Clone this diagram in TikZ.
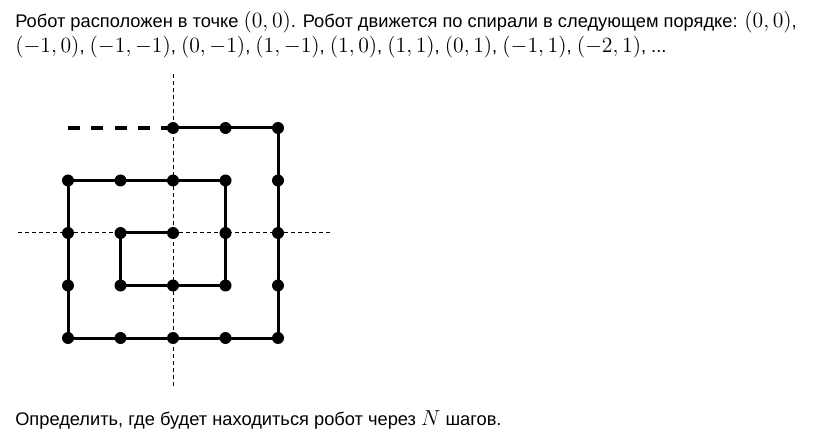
\documentclass[tikz,border=0pt]{standalone}
\usepackage{fix-cm}
\usepackage[no-math]{fontspec}
\setmainfont{Liberation Sans}
\usetikzlibrary{calc}

\newcommand{\mth}[1]{{\fontsize{16.3pt}{18pt}\selectfont$#1$}}

\tikzset{
  txt/.style={anchor=base west, inner sep=0pt, font=\fontsize{13.7pt}{16pt}\selectfont},
  dot/.style={circle, fill=black, inner sep=0pt, minimum size=9pt},
  spiral/.style={line width=2.25pt},
  tail/.style={line width=3pt, dash pattern=on 9pt off 8.44pt},
  axis/.style={line width=0.75pt, dash pattern=on 3pt off 2.25pt}
}

\begin{document}
\begin{tikzpicture}[x=0.75pt, y=-0.75pt]
  \path[use as bounding box] (0, 0) rectangle (817, 445);

%%%%%%%%%%%% Text
  \node[txt] (line1) at (15, 28) {Робот расположен в точке \mth{(0, 0)}. Робот движется по спирали в следующем порядке: \mth{(0, 0)},};
  \node[txt] (line2) at (15, 53) {\mth{(-1, 0)}, \mth{(-1, -1)}, \mth{(0, -1)}, \mth{(1, -1)}, \mth{(1, 0)}, \mth{(1, 1)}, \mth{(0, 1)}, \mth{(-1, 1)}, \mth{(-2, 1)}, ...};
  \node[txt] (line3) at (15, 425) {Определить, где будет находиться робот через \mth{N} шагов.};

%%%%%%%%%%%% Spiral
  \begin{scope}[shift={(173, 233)}, x=39.375pt, y=39.375pt]
    \coordinate (axL) at (-2.95, 0);
    \coordinate (axR) at (3.03, 0);
    \coordinate (axT) at (0, 3.03);
    \coordinate (axB) at (0, -2.93);
    \draw[axis] (axL) -- (axR);
    \draw[axis] (axT) -- (axB);

    \foreach \x/\y [count=\i from 0] in {0/0, -1/0, -1/-1, 0/-1, 1/-1, 1/0, 1/1, 0/1, -1/1, -2/1,
        -2/0, -2/-1, -2/-2, -1/-2, 0/-2, 1/-2, 2/-2, 2/-1, 2/0, 2/1, 2/2, 1/2, 0/2} {
      \node[dot] (p\i) at (\x, \y) {};
    }
    \foreach \i [evaluate=\i as \j using int(\i+1)] in {0,1,...,21} {
      \draw[spiral] (p\i.center) -- (p\j.center);
    }

    \coordinate (tailend) at (-2, 2);
    \draw[tail] (tailend) -- (p22.center);
  \end{scope}
\end{tikzpicture}
\end{document}
